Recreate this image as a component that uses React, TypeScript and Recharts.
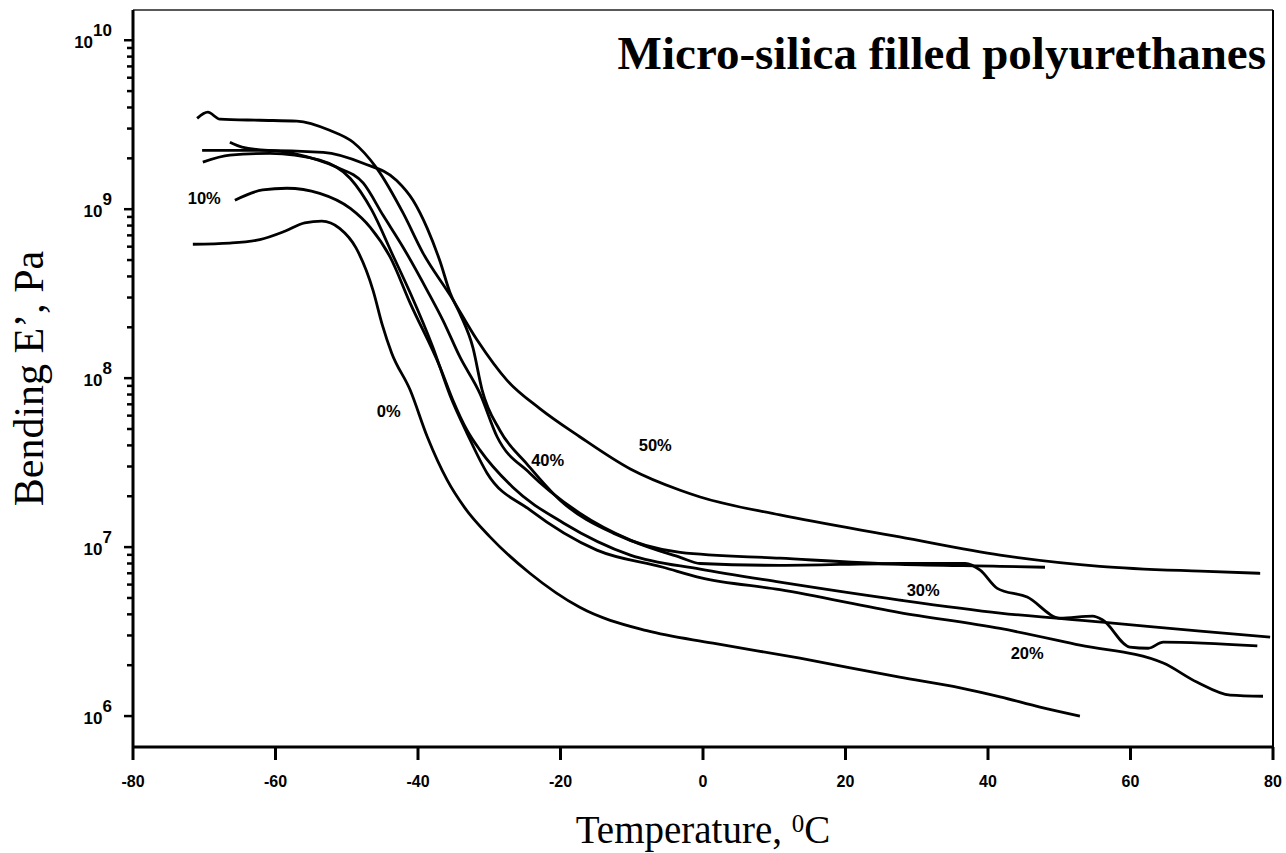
import { ComposedChart, Line, XAxis, YAxis, ReferenceDot, ReferenceLine } from 'recharts';

// temperatures (°C) and bending storage modulus E' (Pa)
const temp0 = [-71.6, -66.4, -62.2, -58.7, -55.9, -53.5, -51.0, -48.7, -46.3, -45.0, -43.7, -41.1, -38.7, -35.9, -33.4, -29.9, -24.3, -17.3, -7.9, 1.4, 13.6, 27.6, 36.1, 41.7, 47.3, 52.9];
const mod0 = [6.2e8, 6.3e8, 6.6e8, 7.4e8, 8.3e8, 8.5e8, 7.7e8, 5.9e8, 3.3e8, 2.06e8, 1.41e8, 8.5e7, 4.5e7, 2.49e7, 1.7e7, 1.15e7, 7.0e6, 4.4e6, 3.2e6, 2.7e6, 2.2e6, 1.7e6, 1.47e6, 1.3e6, 1.13e6, 1.0e6];

const temp10 = [-65.7, -61.8, -58.4, -53.8, -49.5, -46.7, -43.9, -41.1, -36.9, -35.1, -33.1, -31.3, -26.7, -19.6, -10.2, -0.4, 10.8, 27.6, 41.7, 57.5, 69.8, 79.6];
const mod10 = [1.13e9, 1.3e9, 1.33e9, 1.24e9, 1.01e9, 7.8e8, 5.2e8, 2.78e8, 1.16e8, 7.4e7, 4.9e7, 3.75e7, 2.26e7, 1.39e7, 8.97e6, 7.4e6, 6.2e6, 4.86e6, 4.07e6, 3.55e6, 3.18e6, 2.93e6];

const temp20 = [-70.2, -66.4, -60.8, -53.8, -49.5, -46.5, -43.5, -41.1, -37.9, -35.5, -33.1, -30.3, -24.3, -14.9, -5.6, -0.4, 10.8, 27.6, 41.7, 52.9, 64.6, 69.3, 74.0, 78.6];
const mod20 = [1.9e9, 2.09e9, 2.14e9, 1.95e9, 1.52e9, 9.9e8, 5.3e8, 3.2e8, 1.52e8, 7.9e7, 4.7e7, 2.74e7, 1.66e7, 9.6e6, 7.6e6, 6.6e6, 5.6e6, 4.1e6, 3.3e6, 2.63e6, 2.06e6, 1.59e6, 1.33e6, 1.31e6];

const temp30 = [-66.4, -64.7, -57.5, -51.4, -47.7, -44.9, -42.1, -38.7, -36.5, -34.1, -31.3, -28.9, -24.3, -17.3, -10.2, -3.2, -0.4, 10.8, 27.6, 36.8, 38.9, 41.3, 45.5, 50.1, 54.7, 56.1, 59.9, 62.5, 64.6, 77.8];
const mod30 = [2.49e9, 2.33e9, 2.14e9, 1.77e9, 1.43e9, 9.2e8, 5.96e8, 3.3e8, 2.2e8, 1.33e8, 8.1e7, 4.5e7, 2.74e7, 1.59e7, 1.1e7, 8.7e6, 8.0e6, 7.8e6, 8.0e6, 8.0e6, 7.3e6, 5.7e6, 5.06e6, 3.8e6, 3.9e6, 3.7e6, 2.56e6, 2.52e6, 2.74e6, 2.6e6];

const temp40 = [-70.3, -62.2, -53.3, -47.7, -43.0, -40.7, -38.7, -36.9, -35.5, -34.1, -32.3, -31.0, -28.5, -24.7, -20.1, -12.6, -3.2, 10.8, 27.6, 41.7, 48.0];
const mod40 = [2.23e9, 2.23e9, 2.17e9, 1.87e9, 1.48e9, 1.13e9, 7.7e8, 4.9e8, 3.2e8, 2.4e8, 1.52e8, 8.5e7, 4.9e7, 3.1e7, 1.9e7, 1.21e7, 9.3e6, 8.6e6, 7.9e6, 7.7e6, 7.6e6];

const temp50 = [-71.0, -69.5, -67.8, -62.2, -57.0, -52.4, -49.1, -45.8, -42.1, -39.3, -35.5, -31.7, -27.5, -22.9, -17.3, -10.2, -3.2, -0.4, 10.8, 27.6, 41.7, 55.7, 69.8, 78.2];
const mod50 = [3.45e9, 3.75e9, 3.41e9, 3.36e9, 3.32e9, 2.93e9, 2.49e9, 1.75e9, 9.5e8, 5.5e8, 3.1e8, 1.68e8, 9.7e7, 6.6e7, 4.5e7, 2.9e7, 2.17e7, 1.98e7, 1.55e7, 1.15e7, 8.97e6, 7.7e6, 7.2e6, 7.0e6];

// curve annotations
const labelText = ['10%', '0%', '40%', '50%', '30%', '20%'];
const labelTemp = [-70.0, -44.1, -21.8, -6.7, 30.9, 45.5];
const labelMod = [1.16e9, 6.4e7, 3.3e7, 4.0e7, 5.6e6, 2.36e6];

const xTicks = [-80, -60, -40, -20, 0, 20, 40, 60, 80];
const xDomain = [-80, 80];
const yDomain = [6.56e5, 1.51e10];
const yDecades = [1e6, 1e7, 1e8, 1e9, 1e10];
const yMinorSteps = [2, 3, 4, 5, 6, 7, 8, 9];

const yTicks = [
  ...yDecades,
  ...yDecades.slice(0, 4).flatMap((d) => yMinorSteps.map((m) => m * d)),
].sort((a, b) => a - b);

const zip = (t: number[], e: number[]) => t.map((v, i) => ({ t: v, e: e[i] }));

const series = [
  { name: '0%', data: zip(temp0, mod0) },
  { name: '10%', data: zip(temp10, mod10) },
  { name: '20%', data: zip(temp20, mod20) },
  { name: '30%', data: zip(temp30, mod30) },
  { name: '40%', data: zip(temp40, mod40) },
  { name: '50%', data: zip(temp50, mod50) },
];

const SANS = '"Liberation Sans", Arial, sans-serif';
const SERIF = '"Liberation Serif", "Times New Roman", serif';

function YTick(props: any) {
  const { x, y, payload } = props;
  const lg = Math.log10(payload.value);
  const exp = Math.round(lg);
  const major = Math.abs(lg - exp) < 1e-6;
  const len = major ? 9 : 6;
  return (
    <g>
      <path d={`M${x - len},${y}H${x}`} stroke="#000" strokeWidth={2.5} fill="none" />
      {major && (
        <text x={x - 21} y={y + 8} textAnchor="end" fontFamily={SANS} fontWeight="bold" fontSize={17} fill="#000">
          <tspan>10</tspan>
          <tspan dy={-12}>{exp}</tspan>
        </text>
      )}
    </g>
  );
}

function XTick(props: any) {
  const { x, y, payload } = props;
  return (
    <g>
      <path d={`M${x},${y}V${y + 13}`} stroke="#000" strokeWidth={3} fill="none" />
      <text x={x} y={y + 40} textAnchor="middle" fontFamily={SANS} fontWeight="bold" fontSize={16} fill="#000">
        {payload.value}
      </text>
    </g>
  );
}

export default function App() {
  return (
    <div style={{ position: 'absolute', left: 0, top: 0, background: '#fff' }}>
      <ComposedChart width={1286} height={853} margin={{ top: 10, right: 13, bottom: 0, left: 0 }}>
        <XAxis
          dataKey="t"
          type="number"
          domain={xDomain}
          ticks={xTicks}
          interval={0}
          allowDataOverflow
          height={106}
          tickSize={0}
          tickMargin={0}
          tick={<XTick />}
          axisLine={{ stroke: '#000', strokeWidth: 3 }}
          label={{
            content: (p: any) => {
              const vb = p.viewBox;
              return (
                <text x={vb.x + vb.width / 2} y={vb.y + 96} textAnchor="middle" fontFamily={SERIF} fontSize={39} fill="#000">
                  <tspan>Temperature, </tspan>
                  <tspan dy={-11} fontSize={25}>0</tspan>
                  <tspan dy={11}>C</tspan>
                </text>
              );
            },
          }}
        />
        <YAxis
          scale="log"
          type="number"
          domain={yDomain}
          ticks={yTicks}
          interval={0}
          allowDataOverflow
          width={133}
          tickSize={0}
          tickMargin={0}
          tick={<YTick />}
          axisLine={{ stroke: '#000', strokeWidth: 3 }}
          label={{
            content: (p: any) => {
              const vb = p.viewBox;
              const cx = vb.x + 43;
              const cy = vb.y + vb.height / 2;
              return (
                <text x={cx} y={cy} transform={`rotate(-90 ${cx} ${cy})`} textAnchor="middle" fontFamily={SERIF} fontSize={42} fill="#000">
                  Bending E’, Pa
                </text>
              );
            },
          }}
        />

        {/* frame: top and right edges of the plot box */}
        <ReferenceLine
          y={yDomain[1]}
          stroke="#222"
          strokeWidth={1.5}
          label={{
            content: (p: any) => {
              const vb = p.viewBox;
              return (
                <text x={vb.x + vb.width - 7} y={vb.y + 59} textAnchor="end" fontFamily={SERIF} fontWeight="bold" fontSize={47} fill="#000">
                  Micro-silica filled polyurethanes
                </text>
              );
            },
          }}
        />
        <ReferenceLine x={xDomain[1]} stroke="#000" strokeWidth={2} />

        {series.map((s) => (
          <Line
            key={s.name}
            name={s.name}
            data={s.data}
            dataKey="e"
            type="monotone"
            stroke="#000"
            strokeWidth={2.8}
            dot={false}
            activeDot={false}
            isAnimationActive={false}
          />
        ))}

        {labelText.map((txt, i) => (
          <ReferenceDot
            key={txt}
            x={labelTemp[i]}
            y={labelMod[i]}
            r={0}
            shape={(p: any) => (
              <text x={p.cx} y={p.cy + 6} textAnchor="middle" fontFamily={SANS} fontWeight="bold" fontSize={16.5} fill="#000">
                {txt}
              </text>
            )}
          />
        ))}
      </ComposedChart>
    </div>
  );
}
